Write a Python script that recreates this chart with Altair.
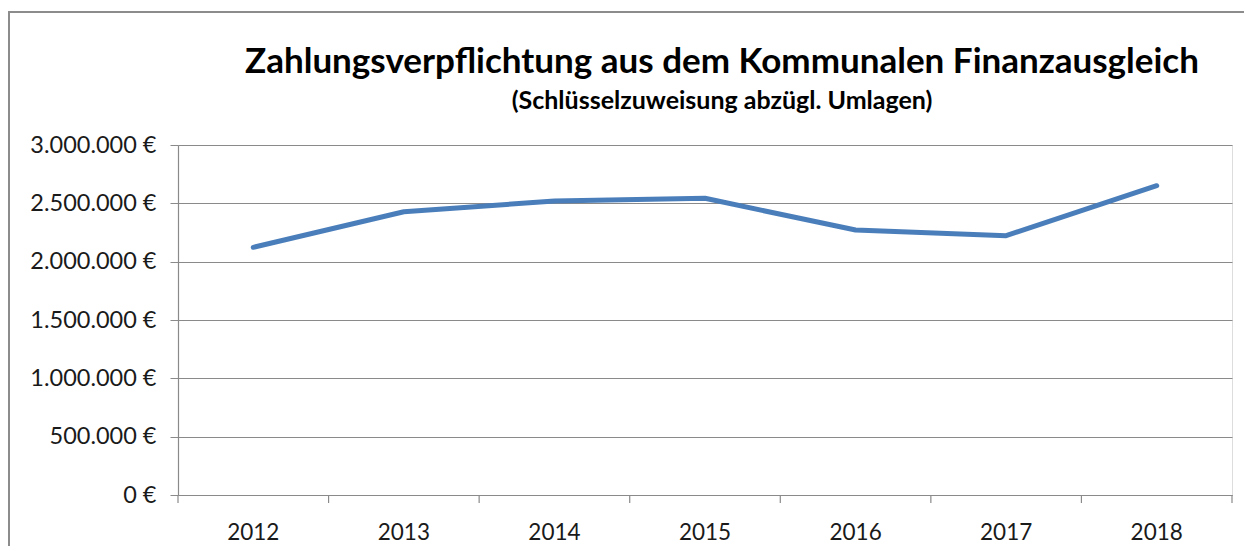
import altair as alt
import pandas as pd

years = ["2012", "2013", "2014", "2015", "2016", "2017", "2018"]
values = [2123000, 2428000, 2520000, 2543000, 2271000, 2223000, 2651000]
y_ticks = [0, 500000, 1000000, 1500000, 2000000, 2500000, 3000000]
title_text = "Zahlungsverpflichtung aus dem Kommunalen Finanzausgleich"
subtitle_text = "(Schlüsselzuweisung abzügl. Umlagen)"

W, H = 1054, 350
FONT = "Lato"
GRID = "#8a8a8a"
LINE = "#4a7ebb"

df = pd.DataFrame({"Jahr": years, "Wert": values})
one = pd.DataFrame({"t": [title_text], "s": [subtitle_text]})

xscale = alt.Scale(type="band", domain=years, paddingInner=0, paddingOuter=0)
x_axis = alt.Axis(title=None, labelAngle=0, ticks=False, labelFontSize=22.5,
                  labelPadding=26, domainColor=GRID, domainWidth=1.2,
                  labelFont=FONT, labelColor="#1a1a1a")
y_enc = alt.Y(
    "Wert:Q",
    scale=alt.Scale(domain=[0, 3000000], nice=False),
    axis=alt.Axis(title=None, values=y_ticks, tickSize=8, tickColor=GRID,
                  domainColor=GRID, domainWidth=1.2, gridColor=GRID, gridWidth=1.2,
                  grid=True, labelFontSize=23.5, labelPadding=14, labelFont=FONT,
                  labelColor="#1a1a1a",
                  labelExpr="replace(format(datum.value, ','), /,/g, '.') + ' €'"),
)

line = alt.Chart(df).mark_line(color=LINE, strokeWidth=5, strokeCap="round",
                               strokeJoin="round").encode(
    x=alt.X("Jahr:N", sort=years, scale=xscale, axis=x_axis), y=y_enc)

ticks = alt.Chart(df).mark_rule(color=GRID, strokeWidth=1.2).encode(
    x=alt.X("Jahr:N", sort=years, bandPosition=0, scale=xscale, axis=x_axis),
    y=alt.value(H), y2=alt.value(H + 8),
)
last_tick = alt.Chart(one).mark_rule(color=GRID, strokeWidth=1.2).encode(
    x=alt.value(W), y=alt.value(H), y2=alt.value(H + 8)
)

title = alt.Chart(one).mark_text(font=FONT, fontSize=35, fontWeight="bold",
                                 color="#000000", align="center",
                                 baseline="alphabetic").encode(
    text="t:N", x=alt.value(544), y=alt.value(-72))
subtitle = alt.Chart(one).mark_text(font=FONT, fontSize=25, fontWeight="bold",
                                    color="#000000", align="center",
                                    baseline="alphabetic").encode(
    text="s:N", x=alt.value(544), y=alt.value(-36))

border = alt.Chart(one).mark_rect(fillOpacity=0, stroke="#8c8c8c",
                                  strokeWidth=2).encode(
    x=alt.value(-169), x2=alt.value(W + 200),
    y=alt.value(-133), y2=alt.value(H + 200))

chart = alt.layer(border, ticks, last_tick, line, title, subtitle).properties(
    width=W, height=H,
    autosize=alt.AutoSizeParams(type="none"),
    padding={"left": 170, "top": 137, "right": 12, "bottom": 51},
).configure_view(stroke=None).configure(background="white")

chart.save("out.html", embed_options={"renderer": "svg", "actions": False})
